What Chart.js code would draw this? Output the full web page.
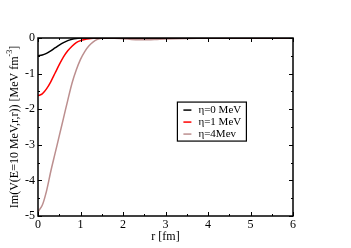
<!DOCTYPE html>
<html lang="en">
<head>
  <meta charset="UTF-8" />
  <title>Im V</title>
  <script src="https://cdn.jsdelivr.net/npm/chart.js"></script>
  <style>
    body { margin: 0; background: #fff; }
    #wrap { width: 351px; height: 248px; }
  </style>
</head>
<body>
  <div id="wrap"><canvas id="chart" width="351" height="248"></canvas></div>
  <script>
    // values
    const rValues = [0, 0.1, 0.2, 0.3, 0.4, 0.5, 0.6, 0.7, 0.8, 0.9, 1.0, 1.1, 1.2, 1.3, 1.4, 1.5, 1.6, 1.8, 2.0, 2.2, 2.4, 2.6, 2.8, 3.0, 3.5, 4.0, 5.0, 6.0];
    const eta0 = [-0.50, -0.48, -0.43, -0.36, -0.28, -0.20, -0.13, -0.075, -0.035, -0.012, -0.003, 0, 0, 0, 0, 0, 0, 0, 0, 0, 0, 0, 0, 0, 0, 0, 0, 0];
    const eta1 = [-1.62, -1.57, -1.43, -1.23, -0.99, -0.75, -0.53, -0.36, -0.23, -0.13, -0.075, -0.04, -0.02, -0.01, -0.005, -0.002, 0, 0, 0, -0.005, -0.01, -0.01, -0.008, -0.005, 0, 0, 0, 0];
    const eta4 = [-4.88, -4.70, -4.30, -3.75, -3.25, -2.75, -2.25, -1.75, -1.27, -0.90, -0.60, -0.38, -0.22, -0.11, -0.04, -0.01, -0.005, -0.01, -0.02, -0.04, -0.05, -0.05, -0.04, -0.03, -0.015, -0.005, 0, 0];
    const seriesNames = ['\u03b7=0 MeV', '\u03b7=1 MeV', '\u03b7=4Mev'];
    const seriesColors = ['#000000', '#ff0000', '#bc8f8f'];
    const xTicks = [0, 1, 2, 3, 4, 5, 6];
    const yTicks = [0, -1, -2, -3, -4, -5];

    const FONT = '"Liberation Serif", "DejaVu Serif", serif';

    function toPoints(ys) {
      return rValues.map((r, i) => ({ x: r, y: ys[i] }));
    }

    const boxAndTicks = {
      id: 'boxAndTicks',
      afterDraw(chart) {
        const { ctx, chartArea: a, scales: { x, y } } = chart;
        ctx.save();
        ctx.strokeStyle = '#000';
        ctx.lineWidth = 1.5;
        ctx.strokeRect(a.left, a.top, a.right - a.left, a.bottom - a.top);
        ctx.lineWidth = 1;
        ctx.beginPath();
        for (let v = xTicks[0]; v <= xTicks[xTicks.length - 1] + 1e-9; v += 0.5) {
          const px = Math.round(x.getPixelForValue(v)) + 0.5;
          const len = Number.isInteger(v) ? 4 : 2;
          ctx.moveTo(px, a.bottom); ctx.lineTo(px, a.bottom - len);
          ctx.moveTo(px, a.top); ctx.lineTo(px, a.top + len);
        }
        for (let v = yTicks[yTicks.length - 1]; v <= yTicks[0] + 1e-9; v += 0.5) {
          const py = Math.round(y.getPixelForValue(v)) + 0.5;
          const len = Number.isInteger(v) ? 4 : 2;
          ctx.moveTo(a.left, py); ctx.lineTo(a.left + len, py);
          ctx.moveTo(a.right, py); ctx.lineTo(a.right - len, py);
        }
        ctx.stroke();

        // legend box
        const lx = x.getPixelForValue(3.28), ly = y.getPixelForValue(-1.8);
        const rowH = 12;
        ctx.font = '11px ' + FONT;
        ctx.lineWidth = 1.2;
        ctx.strokeRect(lx, ly, 69, 3 * rowH + 3);
        seriesNames.forEach((name, i) => {
          const cy = ly + 8 + i * rowH;
          ctx.strokeStyle = seriesColors[i];
          ctx.lineWidth = 1.5;
          ctx.beginPath();
          ctx.moveTo(lx + 6, cy); ctx.lineTo(lx + 14, cy);
          ctx.stroke();
          ctx.fillStyle = '#000';
          ctx.textBaseline = 'middle';
          ctx.fillText(name, lx + 21, cy + 0.5);
        });

        // y title with superscript
        ctx.translate(15, (a.top + a.bottom) / 2);
        ctx.rotate(-Math.PI / 2);
        const main = 'Im(V(E=10 MeV,r,r)) [MeV fm';
        const sup = '-3';
        const end = ']';
        ctx.font = '12px ' + FONT;
        const w1 = ctx.measureText(main).width;
        const w3 = ctx.measureText(end).width;
        ctx.font = '8px ' + FONT;
        const w2 = ctx.measureText(sup).width;
        let sx = -(w1 + w2 + w3) / 2;
        ctx.fillStyle = '#000';
        ctx.textBaseline = 'middle';
        ctx.font = '12px ' + FONT;
        ctx.fillText(main, sx, 0);
        ctx.font = '8px ' + FONT;
        ctx.fillText(sup, sx + w1, -5);
        ctx.font = '12px ' + FONT;
        ctx.fillText(end, sx + w1 + w2, 0);
        ctx.restore();
      }
    };

    new Chart(document.getElementById('chart'), {
      type: 'line',
      data: {
        datasets: [eta0, eta1, eta4].map((ys, i) => ({
          label: seriesNames[i],
          data: toPoints(ys),
          borderColor: seriesColors[i],
          borderWidth: 1.5,
          pointRadius: 0,
          fill: false,
          tension: 0.3
        }))
      },
      options: {
        responsive: false,
        animation: false,
        events: [],
        layout: { padding: { left: 0, top: 38, right: 58, bottom: 0 } },
        plugins: { legend: { display: false }, tooltip: { enabled: false } },
        scales: {
          x: {
            type: 'linear',
            min: 0, max: 6,
            afterBuildTicks: s => { s.ticks = xTicks.map(v => ({ value: v })); },
            afterFit: s => { s.height = 32; },
            grid: { display: false, drawTicks: false },
            border: { display: false },
            ticks: { color: '#000', font: { family: FONT, size: 12 }, padding: 2, maxRotation: 0 },
            title: { display: true, text: 'r [fm]', color: '#000', font: { family: FONT, size: 12 }, padding: { top: -1 } }
          },
          y: {
            type: 'linear',
            min: -5, max: 0,
            afterBuildTicks: s => { s.ticks = yTicks.map(v => ({ value: v })); },
            afterFit: s => { s.width = 38; },
            grid: { display: false, drawTicks: false },
            border: { display: false },
            ticks: { color: '#000', font: { family: FONT, size: 12 }, padding: 3 }
          }
        }
      },
      plugins: [boxAndTicks]
    });
  </script>
</body>
</html>
